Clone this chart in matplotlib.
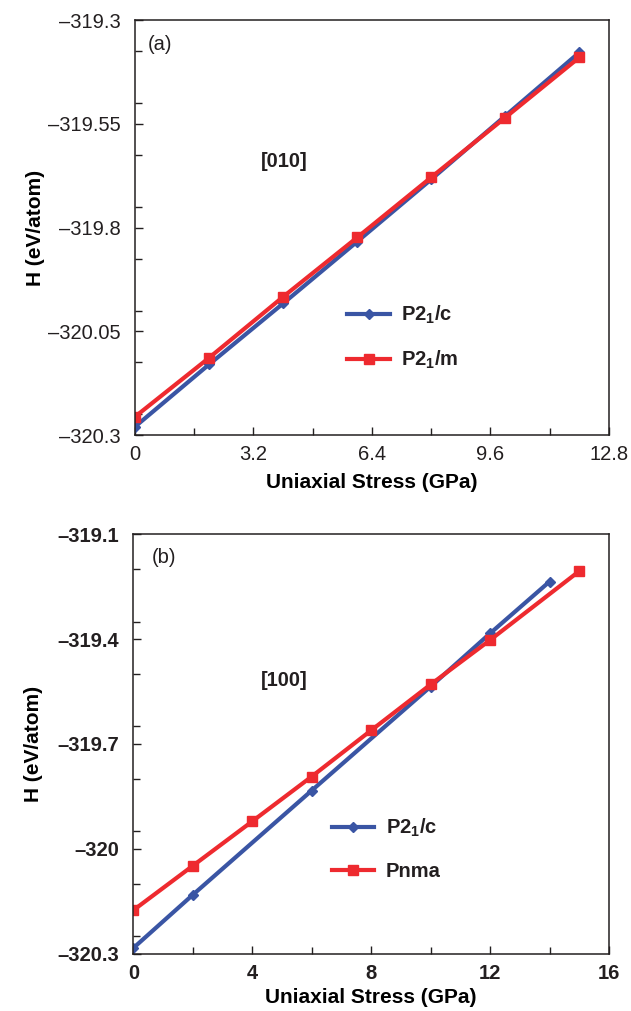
import matplotlib.pyplot as plt
from matplotlib.ticker import MultipleLocator, FixedLocator, FuncFormatter

plt.rcParams.update(
    {
        "font.family": ["Liberation Sans", "DejaVu Sans"],
        "mathtext.fontset": "custom",
        "mathtext.rm": "Liberation Sans:bold",
        "mathtext.bf": "Liberation Sans:bold",
        "text.color": "#231f20",
        "axes.edgecolor": "#231f20",
        "xtick.color": "#231f20",
        "ytick.color": "#231f20",
    }
)

# %% Data

# (a) [010]
stress_a = [0, 2, 4, 6, 8, 10, 12]
h_a_p21c = [-320.280, -320.130, -319.983, -319.834, -319.684, -319.531, -319.378]
h_a_p21m = [-320.256, -320.114, -319.967, -319.824, -319.679, -319.535, -319.390]

# (b) [100]
stress_b_p21c = [0, 2, 6, 10, 12, 14]
h_b_p21c = [-320.283, -320.131, -319.833, -319.536, -319.384, -319.236]
stress_b_pnma = [0, 2, 4, 6, 8, 10, 12, 15]
h_b_pnma = [-320.175, -320.048, -319.921, -319.793, -319.661, -319.530, -319.403, -319.206]

blue = "#3a55a4"
red = "#ee2a2f"

fig = plt.figure(figsize=(6.31, 10.11), dpi=100)
ax1 = fig.add_axes([0.2139, 0.5697, 0.7512, 0.4105])
ax2 = fig.add_axes([0.2113, 0.0564, 0.7538, 0.4154])


def style(ax, bold, fmt, xpad):
    for sp in ax.spines.values():
        sp.set_linewidth(1.1)
    ax.tick_params(which="both", direction="in", top=False, right=False, width=1.0)
    ax.tick_params(which="major", length=6, labelsize=14.5, pad=7)
    ax.tick_params(which="minor", length=5)
    ax.tick_params(axis="y", which="major", pad=10)
    ax.yaxis.set_major_formatter(FuncFormatter(fmt))
    ax.xaxis.set_major_formatter(FuncFormatter(lambda v, p: f"{v:g}"))
    ax.set_xlabel("Uniaxial Stress (GPa)", fontsize=15, fontweight="bold", labelpad=xpad)
    ax.set_ylabel("H (eV/atom)", fontsize=15, fontweight="bold")
    ax.yaxis.set_label_coords(-0.19, 0.5)
    for lab in ax.get_xticklabels() + ax.get_yticklabels():
        lab.set_fontweight("bold" if bold else "normal")


line_kw = dict(lw=3.0, solid_joinstyle="round")
leg_kw = dict(frameon=False, handlelength=2.1, handletextpad=0.55, labelspacing=1.15,
              prop=dict(size=14.5, weight="bold"))

# %% Panel (a)
ax1.plot(stress_a, h_a_p21c, color=blue, marker="D", ms=5, label=r"P2$_\mathbf{1}$/c", **line_kw)
ax1.plot(stress_a, h_a_p21m, color=red, marker="s", ms=7, label=r"P2$_\mathbf{1}$/m", **line_kw)
ax1.set_xlim(0, 12.8)
ax1.set_ylim(-320.3, -319.3)
ax1.xaxis.set_major_locator(MultipleLocator(3.2))
ax1.xaxis.set_minor_locator(MultipleLocator(1.6))
ax1.yaxis.set_major_locator(FixedLocator([-320.3, -320.05, -319.8, -319.55, -319.3]))
ax1.yaxis.set_minor_locator(MultipleLocator(0.125))
ax1.text(0.027, 0.94, "(a)", transform=ax1.transAxes, fontsize=14.5, va="center")
ax1.text(0.315, 0.659, "[010]", transform=ax1.transAxes, fontsize=14.5, fontweight="bold",
         ha="center", va="center")
style(ax1, False, lambda v, p: f"{v:.2f}".rstrip("0").replace("-", "\u2013"), xpad=7)
ax1.legend(loc="center left", bbox_to_anchor=(0.41, 0.235), **leg_kw)

# %% Panel (b)
ax2.plot(stress_b_p21c, h_b_p21c, color=blue, marker="D", ms=5, label=r"P2$_\mathbf{1}$/c", **line_kw)
ax2.plot(stress_b_pnma, h_b_pnma, color=red, marker="s", ms=7, label="Pnma", **line_kw)
ax2.set_xlim(0, 16)
ax2.set_ylim(-320.3, -319.1)
ax2.xaxis.set_major_locator(MultipleLocator(4))
ax2.xaxis.set_minor_locator(MultipleLocator(2))
ax2.yaxis.set_major_locator(FixedLocator([-320.3, -320.0, -319.7, -319.4, -319.1]))
ax2.yaxis.set_minor_locator(MultipleLocator(0.15))
ax2.text(0.039, 0.943, "(b)", transform=ax2.transAxes, fontsize=14.5, va="center")
ax2.text(0.318, 0.65, "[100]", transform=ax2.transAxes, fontsize=14.5, fontweight="bold",
         ha="center", va="center")
style(ax2, True, lambda v, p: f"{v:g}".replace("-", "\u2013"), xpad=4)
ax2.legend(loc="center left", bbox_to_anchor=(0.38, 0.25), **leg_kw)

fig.savefig("out.png", dpi=100)
